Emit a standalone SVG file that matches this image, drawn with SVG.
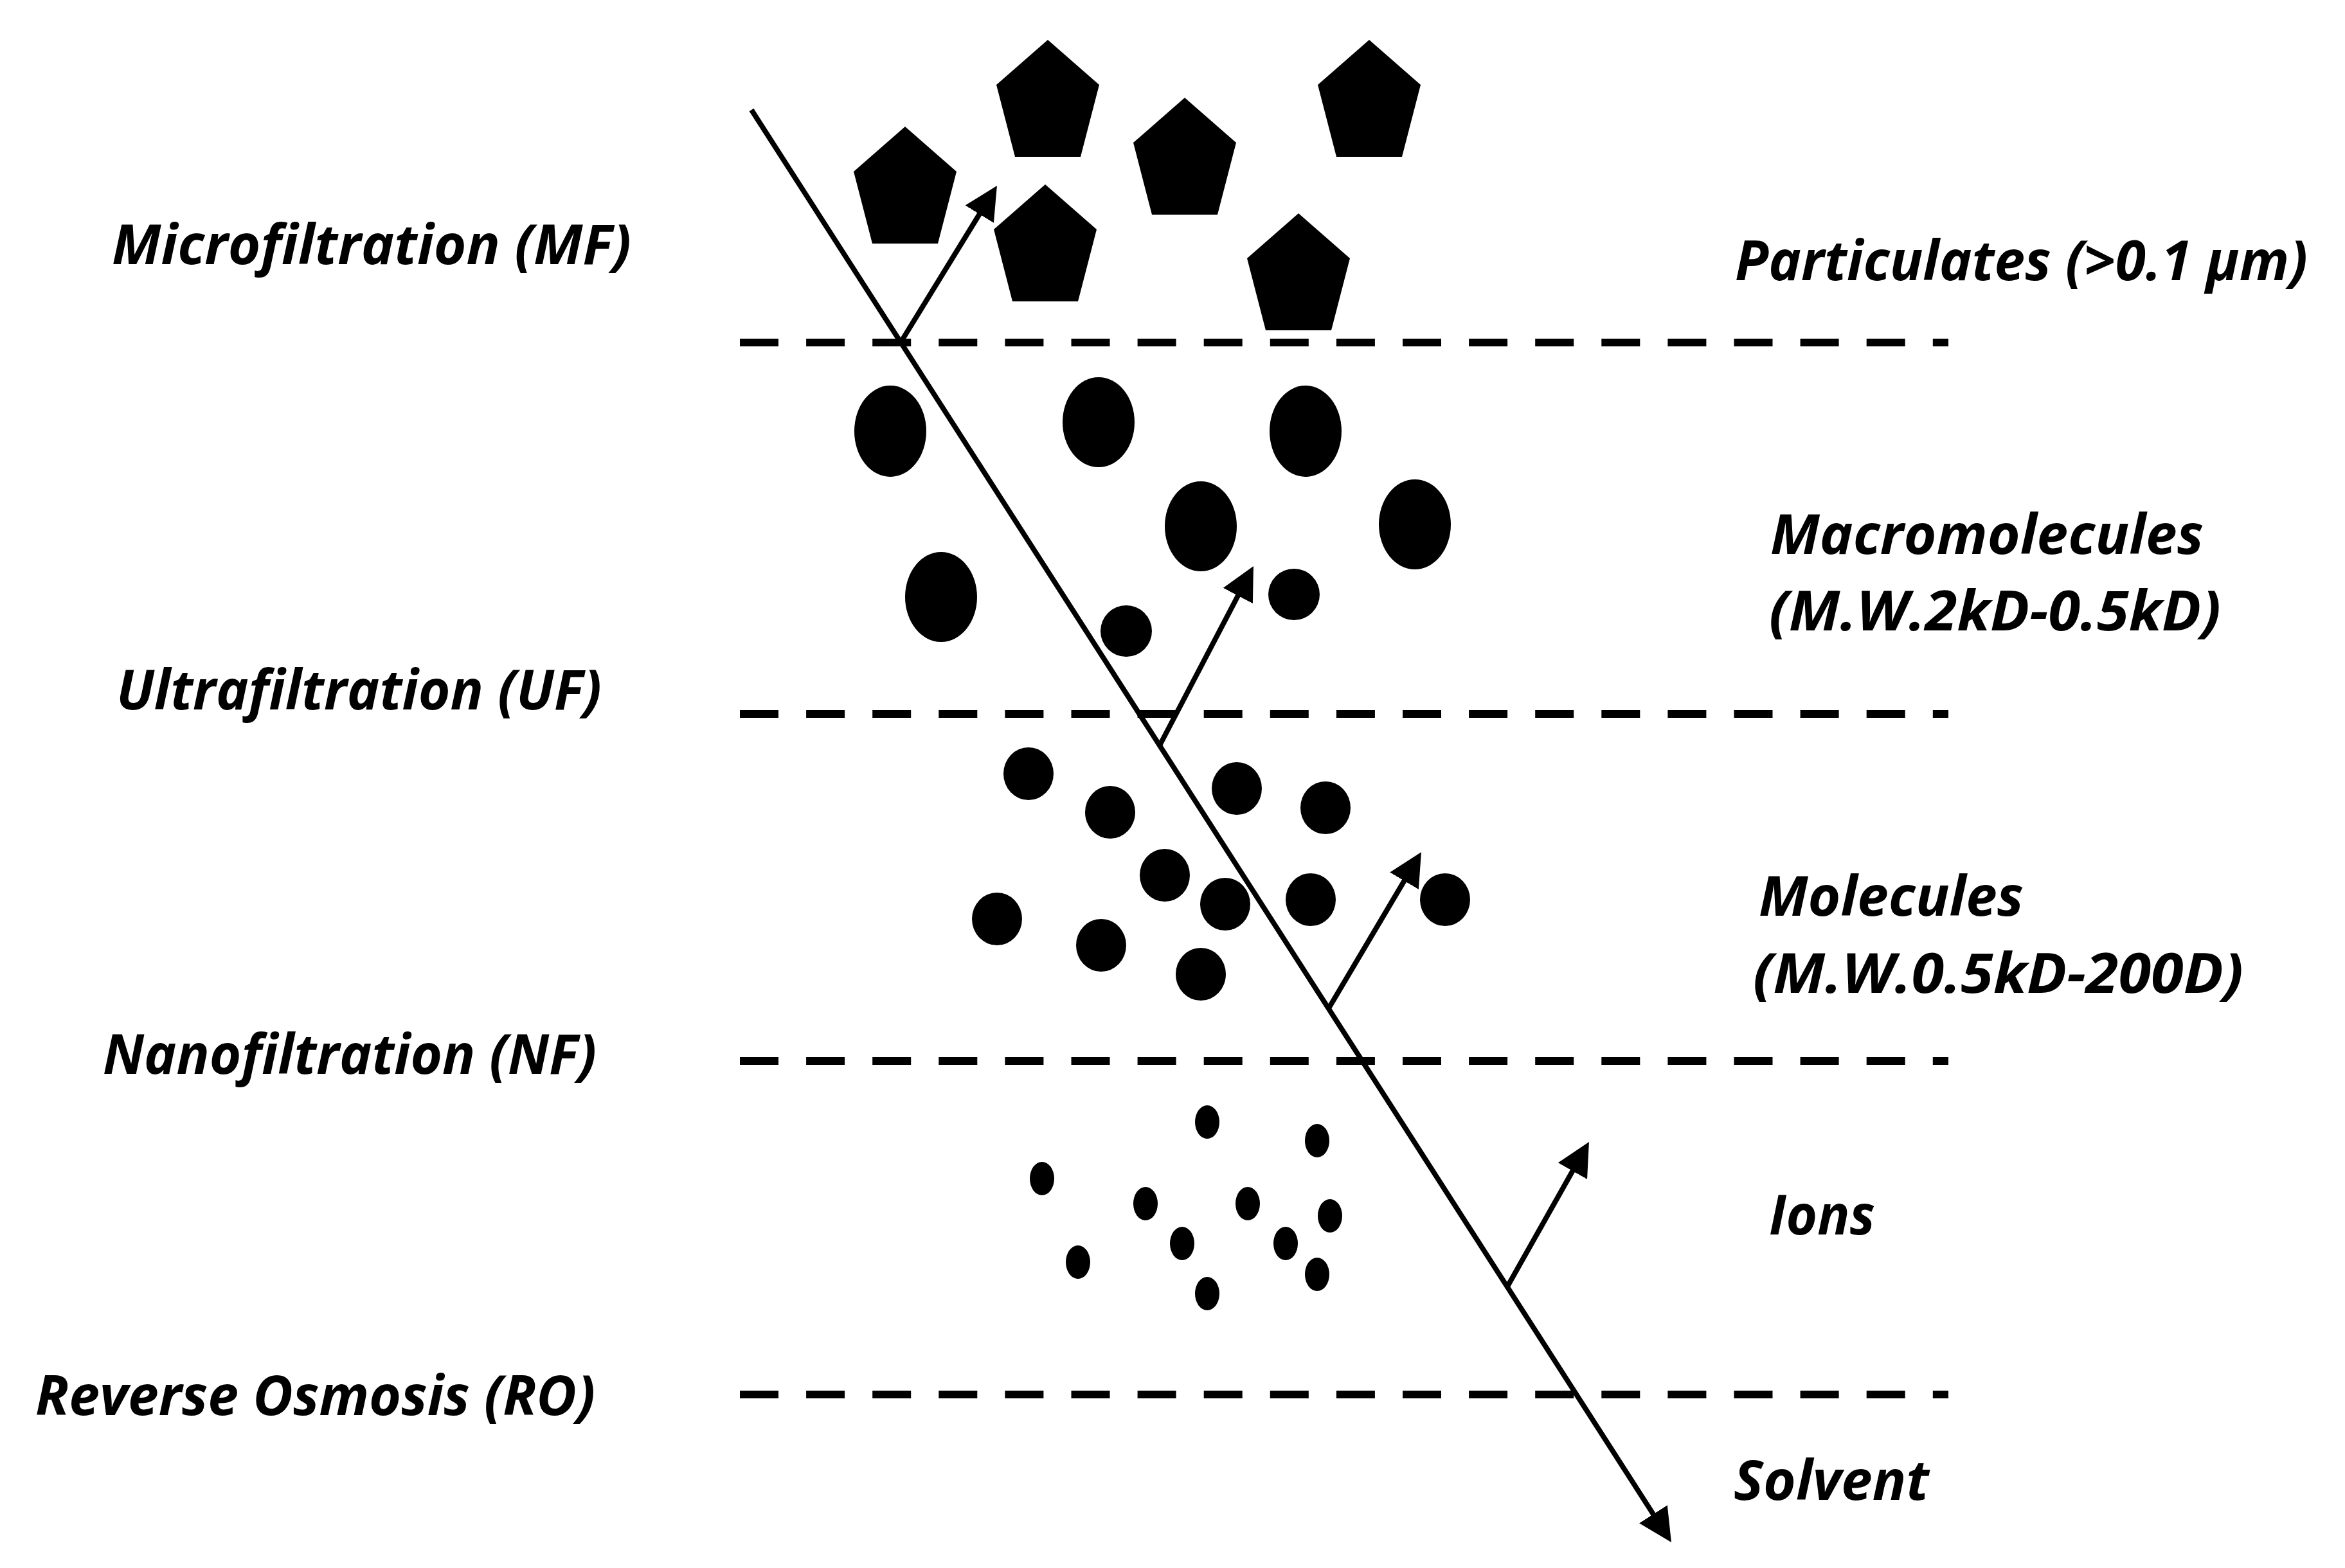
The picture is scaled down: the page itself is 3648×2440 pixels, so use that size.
<svg xmlns="http://www.w3.org/2000/svg" xmlns:xlink="http://www.w3.org/1999/xlink" width="3648" height="2440" viewBox="0 0 3648 2440">
<style>
.lbl{font-family:"Open Sans","Liberation Sans",sans-serif;font-weight:bold;font-style:italic;font-size:86px;fill:#000}
.dash{stroke:#000;stroke-width:12;stroke-dasharray:60 43.1;fill:none}
.arr{stroke:#000;stroke-width:8;fill:none;marker-end:url(#head)}
.p{fill:#000}
</style>
<defs>
<marker id="head" markerUnits="userSpaceOnUse" viewBox="0 0 52 52" markerWidth="52" markerHeight="52" refX="12" refY="26" orient="auto">
<path d="M0,0 L52,26 L0,52 Z" fill="#000"/>
</marker>
<polygon id="pent" points="0,0 80,70 51,182 -51,182 -80,70"/>
</defs>
<rect width="3648" height="2440" fill="#fff"/>

<g id="labels-left">
<text class="lbl" x="174" y="411" textLength="808" lengthAdjust="spacingAndGlyphs">Microfiltration (MF)</text>
<text class="lbl" x="181" y="1104" textLength="755" lengthAdjust="spacingAndGlyphs">Ultrafiltration (UF)</text>
<text class="lbl" x="160" y="1671" textLength="768" lengthAdjust="spacingAndGlyphs">Nanofiltration (NF)</text>
<text class="lbl" x="55" y="2202" textLength="871" lengthAdjust="spacingAndGlyphs">Reverse Osmosis (RO)</text>
</g>

<g id="labels-right">
<text class="lbl" x="2699" y="436" textLength="891" lengthAdjust="spacingAndGlyphs">Particulates (&gt;0.1 µm)</text>
<text class="lbl" x="2754" y="862" textLength="674" lengthAdjust="spacingAndGlyphs">Macromolecules</text>
<text class="lbl" x="2752" y="981" textLength="703" lengthAdjust="spacingAndGlyphs">(M.W.2kD-0.5kD)</text>
<text class="lbl" x="2736" y="1425" textLength="412" lengthAdjust="spacingAndGlyphs">Molecules</text>
<text class="lbl" x="2727" y="1545" textLength="763" lengthAdjust="spacingAndGlyphs">(M.W.0.5kD-200D)</text>
<text class="lbl" x="2752" y="1921" textLength="165" lengthAdjust="spacingAndGlyphs">Ions</text>
<text class="lbl" x="2697" y="2334" textLength="304" lengthAdjust="spacingAndGlyphs">Solvent</text>
</g>

<g id="membranes">
<line class="dash" x1="1151" y1="533" x2="3031" y2="533"/>
<line class="dash" x1="1151" y1="1111" x2="3031" y2="1111"/>
<line class="dash" x1="1151" y1="1651" x2="3031" y2="1651"/>
<line class="dash" x1="1151" y1="2170" x2="3031" y2="2170"/>
</g>

<g id="particulates">
<use xlink:href="#pent" href="#pent" x="1408" y="197"/>
<use xlink:href="#pent" href="#pent" x="1630" y="62"/>
<use xlink:href="#pent" href="#pent" x="1843" y="152"/>
<use xlink:href="#pent" href="#pent" x="2130" y="62"/>
<use xlink:href="#pent" href="#pent" x="1626" y="287"/>
<use xlink:href="#pent" href="#pent" x="2020" y="332"/>
</g>

<g id="macromolecules" class="p">
<ellipse cx="1385" cy="671" rx="56" ry="71"/>
<ellipse cx="1709" cy="657" rx="56" ry="70"/>
<ellipse cx="2031" cy="671" rx="56" ry="71"/>
<ellipse cx="1868" cy="819" rx="56" ry="70"/>
<ellipse cx="2201" cy="816" rx="56" ry="70"/>
<ellipse cx="1464" cy="929" rx="56" ry="70"/>
<ellipse cx="1752" cy="982" rx="40" ry="40"/>
<ellipse cx="2013" cy="925" rx="40" ry="40"/>
</g>

<g id="molecules" class="p">
<ellipse cx="1600" cy="1204" rx="39" ry="41"/>
<ellipse cx="1727" cy="1264" rx="39" ry="41"/>
<ellipse cx="1924" cy="1227" rx="39" ry="41"/>
<ellipse cx="2062" cy="1257" rx="39" ry="41"/>
<ellipse cx="1812" cy="1362" rx="39" ry="41"/>
<ellipse cx="1906" cy="1407" rx="39" ry="41"/>
<ellipse cx="2039" cy="1400" rx="39" ry="41"/>
<ellipse cx="2248" cy="1400" rx="39" ry="41"/>
<ellipse cx="1551" cy="1430" rx="39" ry="41"/>
<ellipse cx="1713" cy="1471" rx="39" ry="41"/>
<ellipse cx="1868" cy="1516" rx="39" ry="41"/>
</g>

<g id="ions" class="p">
<ellipse cx="1878" cy="1746" rx="19" ry="26"/>
<ellipse cx="2049" cy="1775" rx="19" ry="26"/>
<ellipse cx="1621" cy="1834" rx="19" ry="26"/>
<ellipse cx="1782" cy="1873" rx="19" ry="26"/>
<ellipse cx="1941" cy="1873" rx="19" ry="26"/>
<ellipse cx="2069" cy="1892" rx="19" ry="26"/>
<ellipse cx="1839" cy="1935" rx="19" ry="26"/>
<ellipse cx="2000" cy="1935" rx="19" ry="26"/>
<ellipse cx="1677" cy="1964" rx="19" ry="26"/>
<ellipse cx="2049" cy="1983" rx="19" ry="26"/>
<ellipse cx="1878" cy="2013" rx="19" ry="26"/>
</g>

<g id="connectors">
<line class="arr" x1="1169" y1="171" x2="2578.4" y2="2366.4"/>
<line class="arr" x1="1401" y1="533" x2="1530" y2="323"/>
<line class="arr" x1="1804" y1="1160" x2="1931.4" y2="916.4"/>
<line class="arr" x1="2067" y1="1569" x2="2190.6" y2="1360.4"/>
<line class="arr" x1="2345" y1="2002" x2="2452.3" y2="1811.8"/>
</g>
</svg>
